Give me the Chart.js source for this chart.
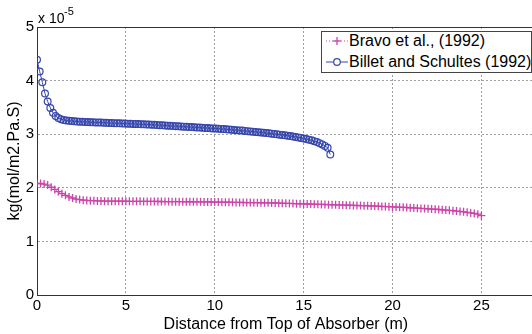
<!DOCTYPE html>
<html>
<head>
<meta charset="utf-8">
<title>Flux along absorber</title>
<script src="https://cdn.jsdelivr.net/npm/chart.js@4.4.1/dist/chart.umd.min.js"></script>
<style>
  body { margin: 0; background: #fff; overflow: hidden; font-family: "Liberation Sans", Arial, sans-serif; }
  #wrap { position: relative; width: 532px; height: 334px; overflow: hidden; }
  #fluxChart { position: absolute; left: 0; top: 0; }
  .exp { position: absolute; color: #000; white-space: nowrap; }
  #legendBox { position: absolute; left: 321px; top: 31px; width: 209px; height: 40px; border: 1px solid #444; background: #fff; }
  .leg-row { position: absolute; left: 0; height: 16px; line-height: 16px; font-size: 16px; color: #000; white-space: nowrap; }
  .leg-row svg { position: absolute; left: 3px; top: 2px; }
  .leg-row span { position: absolute; left: 27px; top: 0; }
</style>
</head>
<body>
<div id="wrap">
  <canvas id="fluxChart" width="540" height="334"></canvas>
  <div class="exp" style="left:38px; top:11px; font-size:14px; line-height:14px;">x 10</div>
  <div class="exp" style="left:64px; top:6px; font-size:11px; line-height:11px;">-5</div>
  <div id="legendBox">
    <div class="leg-row" style="top:1px;">
      <svg width="24" height="12"><line x1="1" y1="6" x2="23" y2="6" stroke="#cc44aa" stroke-width="1" stroke-dasharray="1,2"/><line x1="12" y1="2" x2="12" y2="10" stroke="#cc44aa" stroke-width="1.3"/><line x1="8" y1="6" x2="16" y2="6" stroke="#cc44aa" stroke-width="1.3"/></svg>
      <span>Bravo et al., (1992)</span>
    </div>
    <div class="leg-row" style="top:22px;">
      <svg width="24" height="12"><line x1="1" y1="6" x2="23" y2="6" stroke="#3646ad" stroke-width="1"/><circle cx="12" cy="6" r="3.3" fill="#fff" stroke="#3646ad" stroke-width="1.2"/></svg>
      <span>Billet and Schultes (1992)</span>
    </div>
  </div>
</div>
<script>
// values in units of 1e-5 kg(mol/m2.Pa.S)
const bravoDistance = [
  0, 0.2, 0.4, 0.6, 0.8, 1, 1.2, 1.4, 1.6, 1.8,
  2, 2.2, 2.4, 2.6, 2.8, 3, 3.2, 3.4, 3.6, 3.8,
  4, 4.2, 4.4, 4.6, 4.8, 5, 5.2, 5.4, 5.6, 5.8,
  6, 6.2, 6.4, 6.6, 6.8, 7, 7.2, 7.4, 7.6, 7.8,
  8, 8.2, 8.4, 8.6, 8.8, 9, 9.2, 9.4, 9.6, 9.8,
  10, 10.2, 10.4, 10.6, 10.8, 11, 11.2, 11.4, 11.6, 11.8,
  12, 12.2, 12.4, 12.6, 12.8, 13, 13.2, 13.4, 13.6, 13.8,
  14, 14.2, 14.4, 14.6, 14.8, 15, 15.2, 15.4, 15.6, 15.8,
  16, 16.2, 16.4, 16.6, 16.8, 17, 17.2, 17.4, 17.6, 17.8,
  18, 18.2, 18.4, 18.6, 18.8, 19, 19.2, 19.4, 19.6, 19.8,
  20, 20.2, 20.4, 20.6, 20.8, 21, 21.2, 21.4, 21.6, 21.8,
  22, 22.2, 22.4, 22.6, 22.8, 23, 23.2, 23.4, 23.6, 23.8,
  24, 24.2, 24.4, 24.6, 24.8, 25
];
const bravoFlux = [
  2.08, 2.08, 2.07, 2.05, 2.01, 1.97, 1.93, 1.89, 1.86, 1.83,
  1.81, 1.79, 1.78, 1.77, 1.765, 1.76, 1.76, 1.755, 1.755, 1.75,
  1.75, 1.75, 1.75, 1.75, 1.75, 1.75, 1.748, 1.748, 1.747, 1.747,
  1.746, 1.746, 1.745, 1.745, 1.744, 1.744, 1.743, 1.743, 1.742, 1.742,
  1.741, 1.741, 1.74, 1.74, 1.739, 1.739, 1.738, 1.737, 1.736, 1.735,
  1.734, 1.733, 1.732, 1.731, 1.73, 1.729, 1.728, 1.727, 1.726, 1.725,
  1.724, 1.723, 1.722, 1.721, 1.72, 1.719, 1.718, 1.716, 1.714, 1.712,
  1.71, 1.708, 1.706, 1.704, 1.702, 1.70, 1.698, 1.696, 1.694, 1.692,
  1.69, 1.688, 1.686, 1.684, 1.682, 1.68, 1.678, 1.676, 1.674, 1.672,
  1.67, 1.668, 1.666, 1.664, 1.662, 1.659, 1.656, 1.653, 1.65, 1.647,
  1.644, 1.641, 1.638, 1.635, 1.632, 1.628, 1.624, 1.62, 1.616, 1.612,
  1.608, 1.604, 1.60, 1.595, 1.59, 1.585, 1.579, 1.573, 1.566, 1.559,
  1.551, 1.542, 1.532, 1.521, 1.508, 1.48
];

const billetDistance = [
  0, 0.15, 0.3, 0.45, 0.6, 0.75, 0.9, 1.05, 1.2, 1.35,
  1.5, 1.65, 1.8, 1.95, 2.1, 2.25, 2.4, 2.55, 2.7, 2.85,
  3, 3.15, 3.3, 3.45, 3.6, 3.75, 3.9, 4.05, 4.2, 4.35,
  4.5, 4.65, 4.8, 4.95, 5.1, 5.25, 5.4, 5.55, 5.7, 5.85,
  6, 6.15, 6.3, 6.45, 6.6, 6.75, 6.9, 7.05, 7.2, 7.35,
  7.5, 7.65, 7.8, 7.95, 8.1, 8.25, 8.4, 8.55, 8.7, 8.85,
  9, 9.15, 9.3, 9.45, 9.6, 9.75, 9.9, 10.05, 10.2, 10.35,
  10.5, 10.65, 10.8, 10.95, 11.1, 11.25, 11.4, 11.55, 11.7, 11.85,
  12, 12.15, 12.3, 12.45, 12.6, 12.75, 12.9, 13.05, 13.2, 13.35,
  13.5, 13.65, 13.8, 13.95, 14.1, 14.25, 14.4, 14.55, 14.7, 14.85,
  15, 15.15, 15.3, 15.45, 15.6, 15.75, 15.9, 16.05, 16.2, 16.35,
  16.5
];
const billetFlux = [
  4.39, 4.17, 3.97, 3.76, 3.61, 3.49, 3.40, 3.34, 3.30, 3.28,
  3.265, 3.255, 3.25, 3.245, 3.24, 3.235, 3.232, 3.23, 3.228, 3.226,
  3.224, 3.222, 3.22, 3.218, 3.216, 3.214, 3.212, 3.21, 3.208, 3.206,
  3.204, 3.202, 3.20, 3.198, 3.196, 3.194, 3.192, 3.19, 3.188, 3.186,
  3.184, 3.182, 3.18, 3.177, 3.174, 3.171, 3.168, 3.165, 3.162, 3.159,
  3.156, 3.153, 3.15, 3.147, 3.144, 3.141, 3.138, 3.135, 3.132, 3.129,
  3.126, 3.123, 3.12, 3.117, 3.114, 3.111, 3.108, 3.105, 3.102, 3.099,
  3.095, 3.091, 3.087, 3.083, 3.079, 3.075, 3.071, 3.067, 3.062, 3.057,
  3.052, 3.047, 3.042, 3.037, 3.032, 3.027, 3.022, 3.016, 3.010, 3.004,
  2.998, 2.992, 2.986, 2.979, 2.972, 2.965, 2.957, 2.949, 2.940, 2.931,
  2.921, 2.910, 2.898, 2.885, 2.870, 2.853, 2.833, 2.810, 2.782, 2.745,
  2.62
];

const xTicks = [0, 5, 10, 15, 20, 25];
const yTicks = [0, 1, 2, 3, 4, 5];

const gridColor = "rgba(0,0,0,0.38)";
const frameColor = "#333";

function toPoints(xs, ys) {
  return xs.map((x, i) => ({ x: x, y: ys[i] }));
}

// dotted grid, but not where it sits on the frame
function gridFor(hidden) {
  return {
    color: (c) => (c.tick && hidden.includes(c.tick.value) ? "rgba(0,0,0,0)" : gridColor),
    lineWidth: 1,
    drawTicks: false,
  };
}

const ctx = document.getElementById("fluxChart").getContext("2d");
new Chart(ctx, {
  type: "line",
  data: {
    datasets: [
      {
        label: "Bravo et al., (1992)",
        data: toPoints(bravoDistance, bravoFlux),
        borderColor: "#cc44aa",
        backgroundColor: "#cc44aa",
        borderWidth: 1,
        borderDash: [1, 2],
        pointStyle: "cross",
        pointRadius: 4,
        pointBorderWidth: 1.3,
        pointBorderColor: "#cc44aa",
        tension: 0,
        fill: false,
      },
      {
        label: "Billet and Schultes (1992)",
        data: toPoints(billetDistance, billetFlux),
        borderColor: "#3646ad",
        backgroundColor: "rgba(0,0,0,0)",
        borderWidth: 1,
        pointStyle: "circle",
        pointRadius: 3.4,
        pointBorderWidth: 1.2,
        pointBorderColor: "#3646ad",
        pointBackgroundColor: "rgba(0,0,0,0)",
        tension: 0,
        fill: false,
      },
    ],
  },
  options: {
    responsive: false,
    animation: false,
    devicePixelRatio: 1,
    layout: { padding: { left: 0, top: 27, right: 4, bottom: 0 } },
    plugins: { legend: { display: false }, tooltip: { enabled: false } },
    scales: {
      x: {
        type: "linear",
        position: "bottom",
        min: 0,
        max: 28,
        afterBuildTicks: (s) => { s.ticks = xTicks.map((v) => ({ value: v })); },
        afterFit: (s) => { s.height = 39; },
        ticks: { color: "#000", padding: 2, font: { size: 15, family: "Liberation Sans, Arial" } },
        grid: gridFor([0]),
        border: { display: true, color: frameColor, width: 1, dash: [2, 2] },
        title: {
          display: true,
          text: "Distance from Top of Absorber (m)",
          color: "#000",
          padding: { top: 0, bottom: 0 },
          font: { size: 16, family: "Liberation Sans, Arial" },
        },
      },
      xTop: {
        type: "linear",
        position: "top",
        min: 0,
        max: 28,
        afterFit: (s) => { s.height = 0; },
        ticks: { display: false },
        grid: { display: false, drawTicks: false },
        border: { display: true, color: frameColor, width: 1 },
      },
      y: {
        min: 0,
        max: 5,
        afterBuildTicks: (s) => { s.ticks = yTicks.map((v) => ({ value: v })); },
        afterFit: (s) => { s.width = 37; },
        ticks: { color: "#000", padding: 3, font: { size: 15, family: "Liberation Sans, Arial" } },
        grid: gridFor([0, 5]),
        border: { display: true, color: frameColor, width: 1, dash: [2, 2] },
        title: {
          display: true,
          text: "kg(mol/m2.Pa.S)",
          color: "#000",
          padding: { top: 5, bottom: 0 },
          font: { size: 16, family: "Liberation Sans, Arial" },
        },
      },
    },
  },
});
</script>
</body>
</html>
